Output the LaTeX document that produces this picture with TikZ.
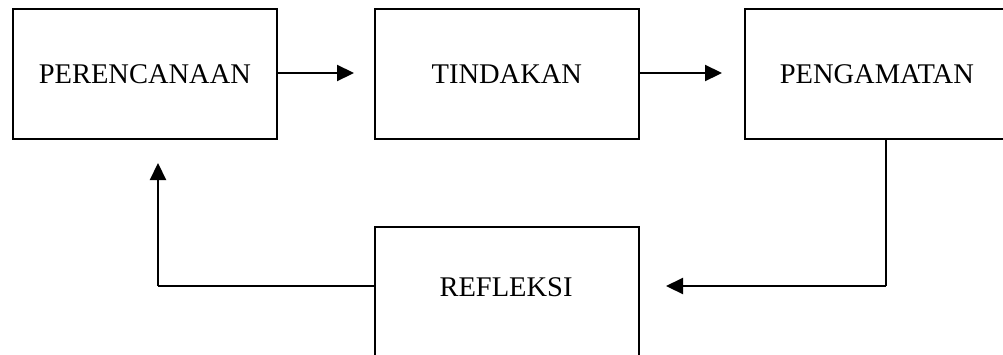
\documentclass[tikz,border=0pt]{standalone}
\usepackage{fontspec}
\setmainfont{Liberation Serif}
\usetikzlibrary{arrows.meta}
\begin{document}
\begin{tikzpicture}[x=1pt,y=1pt,
  boxnode/.style={draw=black, line width=1.7pt, minimum width=264pt, minimum height=130pt, inner sep=0pt, font=\fontsize{28.5}{34}\selectfont},
  txt/.style={inner sep=0pt, font=\fontsize{28.5}{34}\selectfont},
  conn/.style={line width=2.2pt, -{Triangle[length=17pt,width=16pt]}},
  plain/.style={line width=1.7pt}]
\useasboundingbox (0,0) rectangle (1003,-354);
\clip (0,0) rectangle (1003,-354);
\fill[white] (0,0) rectangle (1003,-354);
\node[boxnode, anchor=north west] (pr) at (12,-8) {PERENCANAAN};
\node[boxnode, anchor=north west] (td) at (374,-8) {TINDAKAN};
\node[boxnode, anchor=north west] (pg) at (744,-8) {PENGAMATAN};
\node[boxnode, anchor=north west] (rf) at (374,-226) {};
\node[txt] (rft) at (506,-287) {REFLEKSI};
\coordinate (a1) at (354,-73);
\coordinate (a2) at (722,-73);
\coordinate (c1) at (886,-286);
\coordinate (c2) at (666,-286);
\coordinate (d1) at (158,-286);
\coordinate (d2) at (158,-163);
\draw[conn] (pr.east |- a1) -- (a1);
\draw[conn] (td.east |- a2) -- (a2);
\draw[plain] (pg.south -| c1) -- (c1);
\draw[conn] (c1) -- (c2);
\draw[plain] (rf.west |- d1) -- (d1);
\draw[conn] (d1) -- (d2);
\end{tikzpicture}
\end{document}
